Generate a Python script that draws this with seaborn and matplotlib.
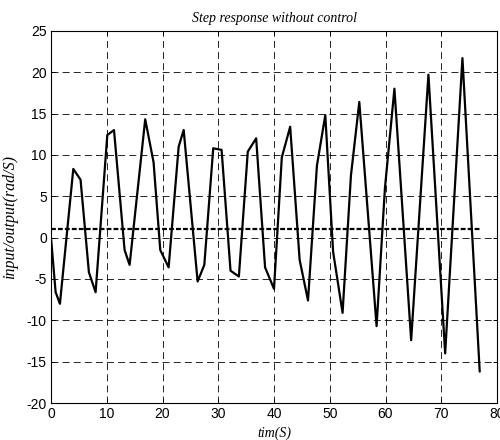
import matplotlib
matplotlib.use("Agg")
import matplotlib.pyplot as plt
import seaborn as sns
import pandas as pd

# ---- data ----
time = [0, 0.83, 1.6, 4.0, 5.3, 6.8, 8.0, 10.1, 11.3, 13.2, 14.1, 16.9, 18.4, 19.6,
        21.1, 22.9, 23.8, 26.3, 27.5, 29.1, 30.6, 32.2, 33.7, 35.3, 36.8, 38.4,
        40.0, 41.4, 42.9, 44.6, 46.1, 47.7, 49.2, 50.6, 52.3, 53.8, 55.3, 58.4,
        59.9, 61.6, 64.6, 67.7, 70.7, 73.8, 76.9]
response = [0, -6.6, -8.0, 8.3, 7.0, -4.2, -6.6, 12.4, 13.0, -1.5, -3.3, 14.3, 9.1, -1.5,
            -3.6, 11.0, 13.0, -5.3, -3.3, 10.8, 10.6, -4.0, -4.7, 10.4, 12.0, -3.6,
            -6.2, 9.7, 13.4, -2.7, -7.6, 8.7, 14.8, -1.7, -9.1, 7.5, 16.4, -10.7,
            6.0, 18.0, -12.4, 19.7, -14.0, 21.7, -16.2]
step_time = [0, 76.9]
step_value = [1, 1]

x_ticks = [0, 10, 20, 30, 40, 50, 60, 70, 80]
y_ticks = [-20, -15, -10, -5, 0, 5, 10, 15, 20, 25]

title = "Step response without control"
x_label = "tim(S)"
y_label = "input/output(rad/S)"

# ---- style ----
sns.set_theme(style="white")
plt.rcParams["font.family"] = ["Liberation Sans", "DejaVu Sans"]
plt.rcParams["axes.unicode_minus"] = False
plt.rcParams["lines.scale_dashes"] = False

resp_df = pd.DataFrame({"t": time, "y": response})
step_df = pd.DataFrame({"t": step_time, "y": step_value})

fig = plt.figure(figsize=(5.0, 4.4), dpi=100)
ax = fig.add_axes([0.102, 0.084, 0.892, 0.846])

sns.lineplot(data=resp_df, x="t", y="y", sort=False, estimator=None,
             color="black", linewidth=1.6, ax=ax, zorder=3)
sns.lineplot(data=step_df, x="t", y="y", sort=False, estimator=None,
             color="black", linewidth=1.6, linestyle=(0, (3.5, 1.5)), ax=ax, zorder=3)

ax.set_xlim(0, 80)
ax.set_ylim(-20, 25)
ax.set_xticks(x_ticks)
ax.set_yticks(y_ticks)
ax.set_xticklabels([str(v) for v in x_ticks], fontsize=10)
ax.set_yticklabels([str(v) for v in y_ticks], fontsize=10)

ax.grid(True, color="black", linewidth=0.6, linestyle=(0, (5, 3)))
ax.set_axisbelow(True)

for s in ax.spines.values():
    s.set_visible(True)
    s.set_color("black")
    s.set_linewidth(0.8)

ax.tick_params(axis="both", direction="in", length=3, width=0.7, colors="black",
               pad=3, top=True, right=True, bottom=True, left=True,
               labeltop=False, labelright=False)

serif_it = dict(family=["Liberation Serif", "DejaVu Serif"], style="italic")
ax.set_title(title, fontsize=10, pad=6, color="black", **serif_it)
ax.set_xlabel(x_label, fontsize=10, labelpad=4, color="black", **serif_it)
ax.set_ylabel(y_label, fontsize=11.5, labelpad=6, color="black", **serif_it)

fig.savefig("out.png", dpi=100)
